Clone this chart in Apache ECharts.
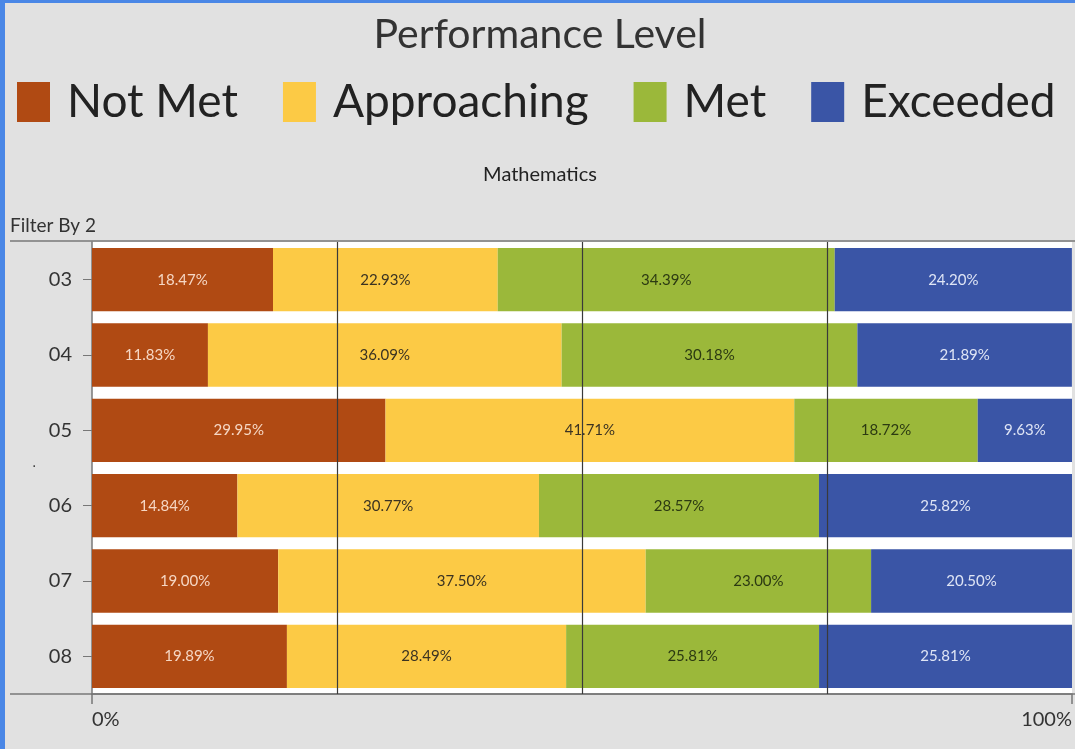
<!DOCTYPE html>
<html>
<head>
<meta charset="utf-8">
<title>Performance Level</title>
<script src="https://cdn.jsdelivr.net/npm/echarts@6/dist/echarts.min.js"></script>
<style>
  html, body { margin: 0; padding: 0; background: #4a87e6; }
  #chart { position: absolute; left: 5px; top: 3px; width: 1070px; height: 746px; background: #e1e1e1; }
</style>
</head>
<body>
<div id="chart"></div>
<script>
// grades shown top to bottom
const grades = ['03', '04', '05', '06', '07', '08'];
const levels = ['Not Met', 'Approaching', 'Met', 'Exceeded'];

// percentage of students per level, one value per grade
const notMet = [18.47, 11.83, 29.95, 14.84, 19.00, 19.89];
const approaching = [22.93, 36.09, 41.71, 30.77, 37.50, 28.49];
const met = [34.39, 30.18, 18.72, 28.57, 23.00, 25.81];
const exceeded = [24.20, 21.89, 9.63, 25.82, 20.50, 25.81];

const xTickLabels = ['0%', '100%'];

const colors = ['#b04a13', '#fcca45', '#9bb83a', '#3a55a6'];
const labelColors = ['#f6d7c4', '#3b3322', '#2c3a12', '#dfe5f5'];
const fontFamily = 'Lato, "Open Sans", sans-serif';

const chart = echarts.init(document.getElementById('chart'));

const makeSeries = (name, values, i) => ({
  name: name,
  type: 'bar',
  stack: 'total',
  barCategoryGap: '16%',
  data: values,
  itemStyle: { color: colors[i] },
  label: {
    show: true,
    position: 'inside',
    color: labelColors[i],
    fontSize: 15,
    fontFamily: fontFamily,
    formatter: (p) => p.value.toFixed(2) + '%'
  },
  emphasis: { disabled: true },
  animation: false
});

chart.setOption({
  backgroundColor: '#e1e1e1',
  title: [
    {
      text: 'Performance Level',
      left: 'center',
      top: 6,
      textStyle: { fontSize: 41, fontWeight: 'normal', color: '#333', fontFamily: fontFamily }
    },
    {
      text: 'Mathematics',
      left: 'center',
      top: 157,
      textStyle: { fontSize: 20, fontWeight: 'normal', color: '#222', fontFamily: fontFamily }
    }
  ],
  legend: {
    data: levels,
    left: 7,
    top: 71,
    width: 1060,
    icon: 'rect',
    itemWidth: 33,
    itemHeight: 40,
    itemGap: 45,
    textStyle: { fontSize: 46, color: '#222', fontFamily: fontFamily, padding: [0, 0, 0, 12] },
    selectedMode: false
  },
  grid: {
    left: 87,
    right: 3,
    top: 239,
    bottom: 55,
    show: true,
    backgroundColor: '#ffffff',
    borderWidth: 0
  },
  xAxis: [
    {
      type: 'value',
      min: 0,
      max: 100,
      interval: 100,
      axisLine: { show: true, lineStyle: { color: '#777', width: 1.5 } },
      axisTick: { show: true, length: 10, lineStyle: { color: '#777', width: 1.5 } },
      splitLine: { show: false },
      axisLabel: {
        fontSize: 20,
        color: '#333',
        fontFamily: fontFamily,
        margin: 16,
        alignMinLabel: 'left',
        alignMaxLabel: 'right',
        formatter: (v) => (v === 0 ? xTickLabels[0] : xTickLabels[1])
      }
    },
    {
      type: 'value',
      min: 0,
      max: 100,
      interval: 25,
      position: 'top',
      z: 10,
      axisLine: { show: false },
      axisTick: { show: false },
      axisLabel: { show: false },
      splitLine: {
        show: true,
        showMinLine: false,
        showMaxLine: false,
        lineStyle: { color: '#3a3a3a', width: 1.2 }
      }
    }
  ],
  yAxis: {
    type: 'category',
    data: grades,
    inverse: true,
    axisLine: { show: true, lineStyle: { color: '#777', width: 1.5 } },
    axisTick: { show: true, length: 9, alignWithLabel: true, lineStyle: { color: '#777' } },
    axisLabel: { fontSize: 20, color: '#333', fontFamily: fontFamily, margin: 20 }
  },
  graphic: [
    {
      type: 'text',
      left: 5,
      top: 213,
      style: { text: 'Filter By 2', fontSize: 19, fill: '#333', fontFamily: fontFamily }
    },
    {
      type: 'line',
      shape: { x1: 5, y1: 238, x2: 1070, y2: 238 },
      style: { stroke: '#777', lineWidth: 1.5 }
    },
    {
      type: 'line',
      shape: { x1: 5, y1: 691, x2: 1070, y2: 691 },
      style: { stroke: '#777', lineWidth: 1.5 }
    },
    {
      type: 'text',
      left: 27,
      top: 452,
      style: { text: '.', fontSize: 16, fill: '#444' }
    }
  ],
  series: [
    makeSeries(levels[0], notMet, 0),
    makeSeries(levels[1], approaching, 1),
    makeSeries(levels[2], met, 2),
    makeSeries(levels[3], exceeded, 3)
  ]
});

window.addEventListener('resize', () => chart.resize());
</script>
</body>
</html>
